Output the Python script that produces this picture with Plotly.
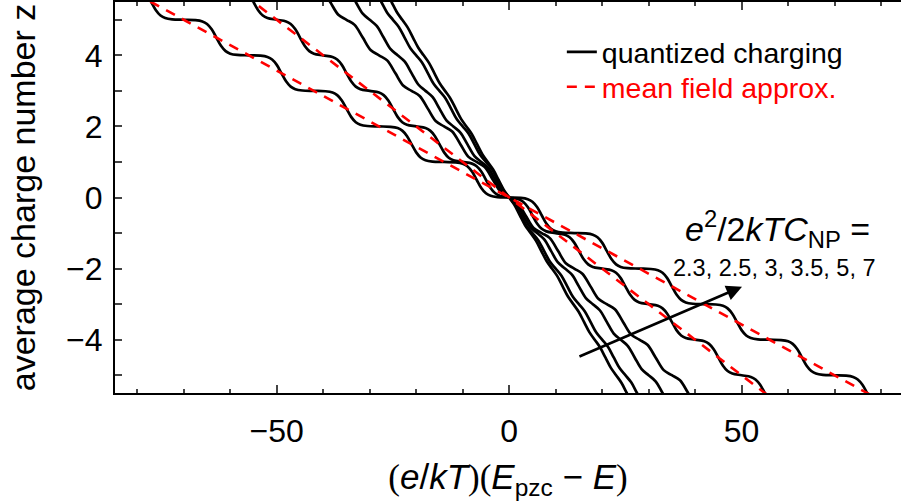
import plotly.graph_objects as go

# ---------------- data ----------------
# charging-energy parameters e^2/2kTC_NP, one quantized curve each
A_VALUES = [2.3, 2.5, 3, 3.5, 5, 7]

# quantized-charging curves, x >= 0 half (the curves are odd: z(-x) = -z(x))
A23_X = [0, 1.15, 2.3, 3.45, 4.6, 5.75, 6.9, 8.05, 9.2, 10.35, 11.5, 12.65, 13.8,
         14.95, 16.1, 17.25, 18.4, 19.55, 20.7, 21.85, 23, 24.15, 25.3, 26.45, 27.6]
A23_Z = [0, -0.213, -0.5, -0.787, -1, -1.213, -1.5, -1.787, -2, -2.213, -2.5, -2.787, -3,
         -3.213, -3.5, -3.787, -4, -4.213, -4.5, -4.787, -5, -5.213, -5.5, -5.787, -6]

A25_X = [0, 1.25, 2.5, 3.75, 5, 6.25, 7.5, 8.75, 10, 11.25, 12.5, 13.75, 15,
         16.25, 17.5, 18.75, 20, 21.25, 22.5, 23.75, 25, 26.25, 27.5, 28.75, 30]
A25_Z = [0, -0.2, -0.5, -0.8, -1, -1.2, -1.5, -1.8, -2, -2.2, -2.5, -2.8, -3,
         -3.2, -3.5, -3.8, -4, -4.2, -4.5, -4.8, -5, -5.2, -5.5, -5.8, -6]

A3_X = [0, 1.5, 3, 4.5, 6, 7.5, 9, 10.5, 12, 13.5, 15, 16.5, 18,
        19.5, 21, 22.5, 24, 25.5, 27, 28.5, 30, 31.5, 33, 34.5, 36]
A3_Z = [0, -0.172, -0.5, -0.828, -1, -1.172, -1.5, -1.828, -2, -2.172, -2.5, -2.828, -3,
        -3.172, -3.5, -3.828, -4, -4.172, -4.5, -4.828, -5, -5.172, -5.5, -5.828, -6]

A35_X = [0, 1.75, 3.5, 5.25, 7, 8.75, 10.5, 12.25, 14, 15.75, 17.5, 19.25, 21,
         22.75, 24.5, 26.25, 28, 29.75, 31.5, 33.25, 35, 36.75, 38.5, 40.25, 42]
A35_Z = [0, -0.143, -0.5, -0.857, -1, -1.143, -1.5, -1.857, -2, -2.143, -2.5, -2.857, -3,
         -3.143, -3.5, -3.857, -4, -4.143, -4.5, -4.857, -5, -5.143, -5.5, -5.857, -6]

A5_X = [0, 2, 3, 4, 5, 6, 7, 8, 10,
        12, 13, 14, 15, 16, 17, 18, 20,
        22, 23, 24, 25, 26, 27, 28, 30,
        32, 33, 34, 35, 36, 37, 38, 40,
        42, 43, 44, 45, 46, 47, 48, 50,
        52, 53, 54, 55, 56, 57, 58, 60]
A5_Z = [0, -0.047, -0.119, -0.269, -0.5, -0.731, -0.881, -0.953, -1,
        -1.047, -1.119, -1.269, -1.5, -1.731, -1.881, -1.953, -2,
        -2.047, -2.119, -2.269, -2.5, -2.731, -2.881, -2.953, -3,
        -3.047, -3.119, -3.269, -3.5, -3.731, -3.881, -3.953, -4,
        -4.047, -4.119, -4.269, -4.5, -4.731, -4.881, -4.953, -5,
        -5.047, -5.119, -5.269, -5.5, -5.731, -5.881, -5.953, -6]

A7_X = [0, 2.5, 4, 5, 6, 7, 8, 9, 10, 11.5, 14,
        16.5, 18, 19, 20, 21, 22, 23, 24, 25.5, 28,
        30.5, 32, 33, 34, 35, 36, 37, 38, 39.5, 42,
        44.5, 46, 47, 48, 49, 50, 51, 52, 53.5, 56,
        58.5, 60, 61, 62, 63, 64, 65, 66, 67.5, 70,
        72.5, 74, 75, 76, 77, 78, 79, 80, 81.5, 84]
A7_Z = [0, -0.011, -0.047, -0.119, -0.269, -0.5, -0.731, -0.881, -0.953, -0.989, -1,
        -1.011, -1.047, -1.119, -1.269, -1.5, -1.731, -1.881, -1.953, -1.989, -2,
        -2.011, -2.047, -2.119, -2.269, -2.5, -2.731, -2.881, -2.953, -2.989, -3,
        -3.011, -3.047, -3.119, -3.269, -3.5, -3.731, -3.881, -3.953, -3.989, -4,
        -4.011, -4.047, -4.119, -4.269, -4.5, -4.731, -4.881, -4.953, -4.989, -5,
        -5.011, -5.047, -5.119, -5.269, -5.5, -5.731, -5.881, -5.953, -5.989, -6]

# mean-field straight lines (end points)
MF5_X = [-60, 60]
MF5_Z = [6, -6]
MF7_X = [-84, 84]
MF7_Z = [6, -6]

# arrow of the parameter annotation (tail -> head), in data units
ARROW_TAIL = (14.8, -4.49)
ARROW_HEAD = (50.1, -2.51)

QUANT_HALVES = [(A23_X, A23_Z), (A25_X, A25_Z), (A3_X, A3_Z),
                (A35_X, A35_Z), (A5_X, A5_Z), (A7_X, A7_Z)]
MEAN_FIELD = [(MF5_X, MF5_Z), (MF7_X, MF7_Z)]


def full_curve(xh, zh):
    """Build the whole odd curve from its x >= 0 half."""
    x = [-v for v in xh[:0:-1]] + list(xh)
    z = [-v for v in zh[:0:-1]] + list(zh)
    return x, z


FONT = "Liberation Sans, Arial, sans-serif"
fig = go.Figure()

for i, (xh, zh) in enumerate(QUANT_HALVES):
    x, z = full_curve(xh, zh)
    fig.add_trace(go.Scatter(
        x=x, y=z, mode="lines",
        line=dict(color="black", width=2.7, shape="spline", smoothing=1.0),
        name="quantized charging", showlegend=(i == 0), legend="legend",
        hoverinfo="skip"))

for i, (x, z) in enumerate(MEAN_FIELD):
    fig.add_trace(go.Scatter(
        x=x, y=z, mode="lines",
        line=dict(color="#ff0000", width=2.6, dash="10px,8px"),
        name="<span style='color:#ff0000'>mean field approx.</span>",
        showlegend=(i == 0), legend="legend2", hoverinfo="skip"))

label = ", ".join(str(v) for v in A_VALUES)

fig.add_annotation(x=57.8, y=-0.89, xref="x", yref="y",
                   text="<i>e</i><sup>2</sup>/2<i>kTC</i><sub>NP</sub>&nbsp;=",
                   showarrow=False, font=dict(size=34, color="black", family=FONT))
fig.add_annotation(x=57.0, y=-1.97, xref="x", yref="y", text=label,
                   showarrow=False, font=dict(size=23.5, color="black", family=FONT))
fig.add_annotation(x=ARROW_HEAD[0], y=ARROW_HEAD[1], ax=ARROW_TAIL[0], ay=ARROW_TAIL[1],
                   xref="x", yref="y", axref="x", ayref="y", text="",
                   showarrow=True, arrowhead=2, arrowsize=1.2, arrowwidth=2.6,
                   arrowcolor="black")

serif_l = "<span style='font-family:Liberation Serif'>(</span>"
serif_r = "<span style='font-family:Liberation Serif'>)</span>"
x_title = (serif_l + "<i>e</i>/<i>kT</i>" + serif_r + serif_l +
           "<i>E</i><sub>pzc</sub> − <i>E</i>" + serif_r)

legend_common = dict(xanchor="left", yanchor="top", bgcolor="rgba(0,0,0,0)",
                     font=dict(size=28.5, family=FONT), itemwidth=30)

fig.update_layout(
    width=901, height=503,
    margin=dict(l=115, r=0, t=0, b=110),
    paper_bgcolor="white", plot_bgcolor="white",
    font=dict(family=FONT, size=28, color="black"),
    showlegend=True,
    legend=dict(x=0.5685, y=0.9364, **legend_common),
    legend2=dict(x=0.5685, y=0.8473, **legend_common),
    xaxis=dict(range=[-84.8, 84.3], tick0=0, dtick=50, ticks="inside", ticklen=8,
               tickwidth=2, showline=True, linewidth=2, linecolor="black",
               mirror="ticks", showgrid=False, zeroline=False,
               tickfont=dict(size=32, family=FONT), ticklabelstandoff=9,
               minor=dict(dtick=10, tick0=0, ticks="inside", ticklen=4, tickwidth=2,
                          showgrid=False),
               title=dict(text=x_title, font=dict(size=35, family=FONT), standoff=16)),
    yaxis=dict(range=[-5.5, 5.5], tick0=0, dtick=2, ticks="inside", ticklen=7,
               tickwidth=2, showline=True, linewidth=2, linecolor="black",
               mirror=False, showgrid=False, zeroline=False,
               tickfont=dict(size=32, family=FONT), ticklabelstandoff=4,
               minor=dict(dtick=1, tick0=0, ticks="inside", ticklen=7, tickwidth=2,
                          showgrid=False),
               title=dict(text="average charge number z", font=dict(size=34, family=FONT),
                          standoff=20)),
    yaxis2=dict(range=[-5.5, 5.5], overlaying="y", side="right", anchor="x",
                tick0=0, dtick=2, ticks="inside", ticklen=7, tickwidth=2,
                showline=False, showgrid=False, zeroline=False, showticklabels=False,
                minor=dict(dtick=1, tick0=0, ticks="inside", ticklen=7, tickwidth=2,
                           showgrid=False)),
)

fig.write_html("out.html")
